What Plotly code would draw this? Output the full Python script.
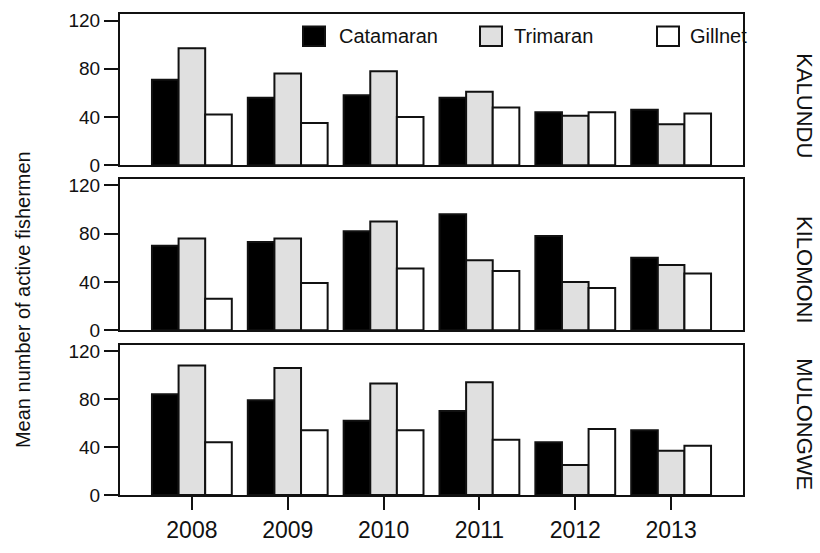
import plotly.graph_objects as go
from plotly.subplots import make_subplots

# --- data -------------------------------------------------------------
years = ["2008", "2009", "2010", "2011", "2012", "2013"]
sites = ["KALUNDU", "KILOMONI", "MULONGWE"]
gear_types = ["Catamaran", "Trimaran", "Gillnet"]

kalundu_catamaran = [71, 56, 58, 56, 44, 46]
kalundu_trimaran = [97, 76, 78, 61, 41, 34]
kalundu_gillnet = [42, 35, 40, 48, 44, 43]

kilomoni_catamaran = [70, 73, 82, 96, 78, 60]
kilomoni_trimaran = [76, 76, 90, 58, 40, 54]
kilomoni_gillnet = [26, 39, 51, 49, 35, 47]

mulongwe_catamaran = [84, 79, 62, 70, 44, 54]
mulongwe_trimaran = [108, 106, 93, 94, 25, 37]
mulongwe_gillnet = [44, 54, 54, 46, 55, 41]

site_values = {
    "KALUNDU": [kalundu_catamaran, kalundu_trimaran, kalundu_gillnet],
    "KILOMONI": [kilomoni_catamaran, kilomoni_trimaran, kilomoni_gillnet],
    "MULONGWE": [mulongwe_catamaran, mulongwe_trimaran, mulongwe_gillnet],
}

y_ticks = [0, 40, 80, 120]

# --- styling ----------------------------------------------------------
W, H = 820, 553
ML, MR, MT, MB = 120, 77, 10, 47
PW, PH = W - ML - MR, H - MT - MB
FONT = "Liberation Sans, Arial, sans-serif"
INK = "#111111"
fills = {"Catamaran": "#000000", "Trimaran": "#e0e0e0", "Gillnet": "#ffffff"}


def px_x(px):
    return (px - ML) / PW


def px_y(py):
    return 1 - (py - MT) / PH


# panel extents in pixels (top, bottom)
panel_px = [(10, 166), (180, 336), (351, 506)]

fig = make_subplots(rows=3, cols=1, shared_xaxes=False)

for r, site in enumerate(sites, start=1):
    for gear, vals in zip(gear_types, site_values[site]):
        fig.add_trace(
            go.Bar(
                x=years,
                y=vals,
                name=gear,
                showlegend=False,
                marker=dict(color=fills[gear], line=dict(color=INK, width=2)),
                hoverinfo="x+y+name",
            ),
            row=r,
            col=1,
        )

for r, (top, bot) in enumerate(panel_px, start=1):
    dom = [px_y(bot), px_y(top)]
    last = r == 3
    fig.update_yaxes(
        domain=dom,
        range=[0, 125.4],
        tickvals=y_ticks,
        ticks="outside",
        ticklen=14,
        tickwidth=2,
        tickcolor=INK,
        showline=True,
        linewidth=2,
        linecolor=INK,
        mirror=True,
        showgrid=False,
        zeroline=False,
        tickfont=dict(family=FONT, size=19, color=INK),
        row=r,
        col=1,
    )
    fig.update_xaxes(
        domain=[0, 1],
        range=[-0.75, 5.75],
        type="category",
        showline=True,
        linewidth=2,
        linecolor=INK,
        mirror=True,
        showgrid=False,
        zeroline=False,
        ticks="outside" if last else "",
        ticklen=13,
        tickwidth=2,
        tickcolor=INK,
        showticklabels=last,
        tickfont=dict(family=FONT, size=23, color=INK),
        row=r,
        col=1,
    )

# site labels on the right of each panel
site_label_pos = [(805, 104), (805, 274), (805, 433)]
for site, (lx, ly) in zip(sites, site_label_pos):
    fig.add_annotation(
        x=px_x(lx), y=px_y(ly), xref="paper", yref="paper",
        text=site, textangle=90, showarrow=False,
        font=dict(family=FONT, size=22, color=INK),
        xanchor="center", yanchor="middle",
    )

# y-axis title shared by the three panels
fig.add_annotation(
    x=px_x(23), y=px_y(305), xref="paper", yref="paper",
    text="Mean number of active fishermen", textangle=-90, showarrow=False,
    font=dict(family=FONT, size=20, color=INK),
    xanchor="center", yanchor="middle",
)

# legend drawn inside the top panel
legend_items = [("Catamaran", 303, 337), ("Trimaran", 480, 512), ("Gillnet", 657, 688)]
for gear, bx, tx in legend_items:
    fig.add_shape(
        type="rect", xref="paper", yref="paper",
        x0=px_x(bx), x1=px_x(bx + 22), y0=px_y(43), y1=px_y(23),
        fillcolor=fills[gear], line=dict(color=INK, width=2),
    )
    fig.add_annotation(
        x=px_x(tx), y=px_y(33), xref="paper", yref="paper",
        text=gear, showarrow=False, xanchor="left", yanchor="middle",
        font=dict(family=FONT, size=20, color=INK),
    )

fig.update_layout(
    width=W,
    height=H,
    margin=dict(l=ML, r=MR, t=MT, b=MB),
    barmode="group",
    bargap=0.167,
    bargroupgap=0,
    plot_bgcolor="white",
    paper_bgcolor="white",
    showlegend=False,
)

fig.write_html("out.html")
